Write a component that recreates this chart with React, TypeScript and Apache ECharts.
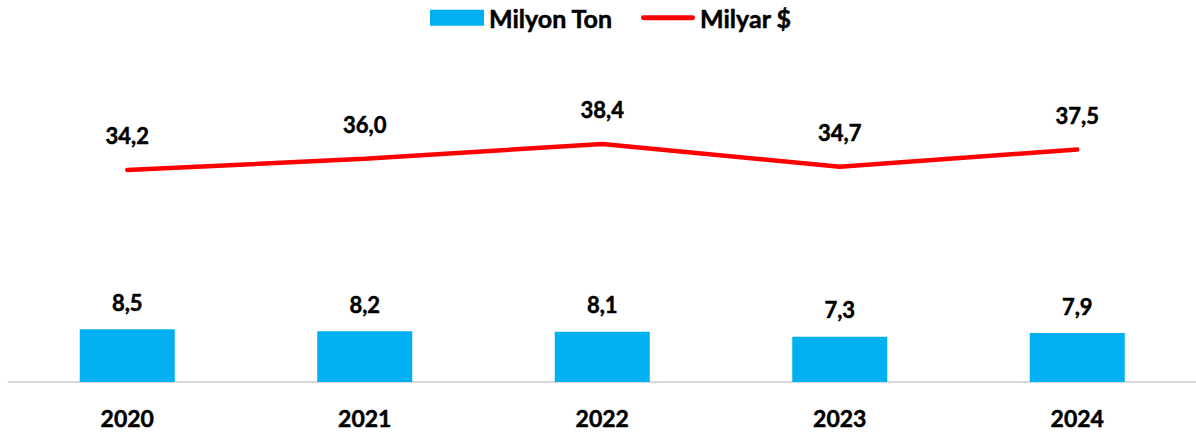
import React, { useEffect, useRef } from "react";
import * as echarts from "echarts";

const years = ["2020", "2021", "2022", "2023", "2024"];
const milyonTon = [8.5, 8.2, 8.1, 7.3, 7.9];
const milyarDolar = [34.2, 36.0, 38.4, 34.7, 37.5];

const fmt = (v: number) => v.toFixed(1).replace(".", ",");
const FONT = "Lato";

export default function App() {
  const ref = useRef<HTMLDivElement>(null);
  useEffect(() => {
    if (!ref.current) return;
    const chart = echarts.init(ref.current, null, { renderer: "svg" });
    const labelStyle = {
      fontFamily: FONT,
      fontWeight: "bold",
      fontSize: 22,
      color: "#000",
      textBorderColor: "#000",
      textBorderWidth: 0.5,
    };
    chart.setOption({
      animation: false,
      backgroundColor: "#ffffff",
      legend: {
        top: 0,
        left: 425,
        itemWidth: 54,
        itemHeight: 16,
        itemGap: 28,
        textStyle: {
          fontFamily: FONT,
          fontWeight: "bold",
          fontSize: 25,
          color: "#000",
          textBorderColor: "#000",
          textBorderWidth: 0.5,
        },
        data: [
          { name: "Milyon Ton", icon: "rect" },
          {
            name: "Milyar $",
            icon: "path://M2.5,0 L53.5,0 A2.5,2.5 0 0 1 53.5,5 L2.5,5 A2.5,2.5 0 0 1 2.5,0 Z",
          },
        ],
      },
      grid: { left: 8.5, right: -7.5, top: 72, bottom: 52, containLabel: false },
      xAxis: {
        type: "category",
        data: years,
        axisLine: { show: true, lineStyle: { color: "#D9D9D9", width: 2 } },
        axisTick: { show: false },
        axisLabel: {
          margin: 24,
          fontFamily: FONT,
          fontWeight: "bold",
          fontSize: 23,
          color: "#000",
          textBorderColor: "#000",
          textBorderWidth: 0.5,
        },
      },
      yAxis: {
        type: "value",
        min: 0,
        max: 50,
        show: false,
        splitLine: { show: false },
      },
      series: [
        {
          name: "Milyon Ton",
          type: "bar",
          data: milyonTon,
          barWidth: "40%",
          itemStyle: { color: "#00B0F0" },
          label: {
            show: true,
            position: "top",
            distance: 16,
            formatter: (p: any) => fmt(p.value),
            ...labelStyle,
          },
        },
        {
          name: "Milyar $",
          type: "line",
          data: milyarDolar,
          symbol: "circle",
          symbolSize: 0.01,
          showSymbol: true,
          lineStyle: { color: "#FF0000", width: 4.5, cap: "round" },
          itemStyle: { color: "#FF0000" },
          label: {
            show: true,
            position: "top",
            distance: 23,
            formatter: (p: any) => fmt(p.value),
            ...labelStyle,
          },
        },
      ],
    });
    return () => chart.dispose();
  }, []);
  return (
    <div
      ref={ref}
      style={{ position: "absolute", left: 0, top: 0, width: 1196, height: 434 }}
    />
  );
}
